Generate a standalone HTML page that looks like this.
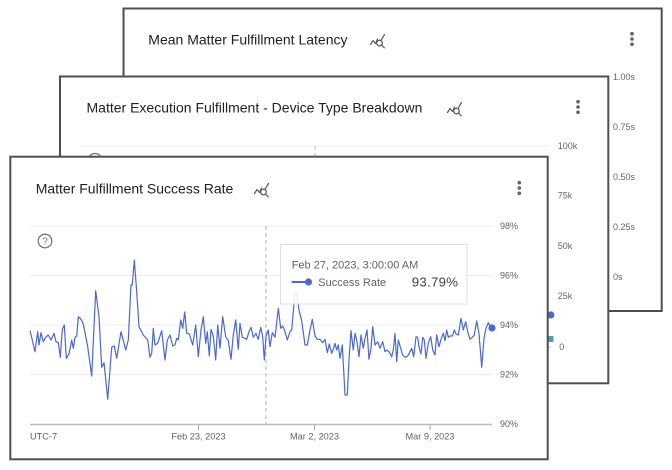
<!DOCTYPE html>
<html>
<head>
<meta charset="utf-8">
<style>
  html,body{margin:0;padding:0;background:#fff;}
  body{width:672px;height:470px;overflow:hidden;}
  svg{display:block;font-family:"Liberation Sans",Arial,sans-serif;}
</style>
</head>
<body>
<svg width="672" height="470" viewBox="0 0 672 470" xmlns="http://www.w3.org/2000/svg">
  <defs>
    <g id="qicon" fill="none" stroke="#5f6368" stroke-width="1.3" stroke-linecap="round" stroke-linejoin="round">
      <polyline points="254.5,193.5 257,189.5 259.5,192.5 261.5,188"/>
      <circle cx="263.5" cy="192" r="2.8"/>
      <line x1="265.6" y1="194.2" x2="268.3" y2="196.8"/>
      <line x1="265.2" y1="189.2" x2="268.5" y2="183.5"/>
    </g>
    <g id="kebab" fill="#5f6368">
      <circle cx="0" cy="-5.3" r="1.8"/>
      <circle cx="0" cy="0" r="1.8"/>
      <circle cx="0" cy="5.3" r="1.8"/>
    </g>
  </defs>

  <!-- ===== Card 1 ===== -->
  <rect x="123.5" y="8.5" width="538.2" height="302.5" fill="#fff" stroke="#4f4f4f" stroke-width="2"/>
  <text x="148.3" y="44.3" font-size="14" fill="#202124">Mean Matter Fulfillment Latency</text>
  <use href="#qicon" transform="translate(116,-149)"/>
  <use href="#kebab" transform="translate(632,39)"/>
  <g font-size="9" fill="#666">
    <text x="613" y="80.2">1.00s</text>
    <text x="613" y="130.2">0.75s</text>
    <text x="613" y="180.2">0.50s</text>
    <text x="613" y="230">0.25s</text>
    <text x="613" y="280">0s</text>
  </g>

  <!-- ===== Card 2 ===== -->
  <rect x="60" y="76.5" width="548.3" height="306.8" fill="#fff" stroke="#4f4f4f" stroke-width="2"/>
  <text x="86.5" y="112.3" font-size="14" fill="#202124">Matter Execution Fulfillment - Device Type Breakdown</text>
  <use href="#qicon" transform="translate(193,-81)"/>
  <use href="#kebab" transform="translate(578,107)"/>
  <line x1="80" y1="146" x2="550" y2="146" stroke="#ececec" stroke-width="1"/>
  <line x1="315" y1="146" x2="315" y2="160" stroke="#bbb" stroke-width="1" stroke-dasharray="4,3"/>
  <circle cx="95" cy="160.5" r="7" fill="none" stroke="#757575" stroke-width="1.3"/>
  <line x1="547" y1="347" x2="551" y2="347" stroke="#bbb" stroke-width="1"/>
  <g font-size="9" fill="#666">
    <text x="557.7" y="149">100k</text>
    <text x="557.7" y="198.5">75k</text>
    <text x="557.7" y="249">50k</text>
    <text x="557.7" y="299">25k</text>
    <text x="559.3" y="350">0</text>
  </g>
  <circle cx="550.8" cy="315" r="3.6" fill="#4c68d0"/>
  <rect x="548.5" y="336" width="5" height="6" fill="#5a9ea8"/>

  <!-- ===== Card 3 ===== -->
  <rect x="10.3" y="156.7" width="537.4" height="302.6" fill="#fff" stroke="#4f4f4f" stroke-width="2"/>
  <text x="35.7" y="193.3" font-size="14" fill="#202124">Matter Fulfillment Success Rate</text>
  <use href="#qicon"/>
  <use href="#kebab" transform="translate(519.3,188)"/>

  <!-- help icon -->
  <circle cx="45" cy="241" r="6.8" fill="none" stroke="#757575" stroke-width="1.3"/>
  <text x="45" y="244.6" font-size="10" fill="#757575" text-anchor="middle">?</text>

  <!-- gridlines -->
  <g stroke="#ececec" stroke-width="1">
    <line x1="30" y1="226" x2="492" y2="226"/>
    <line x1="30" y1="275.5" x2="492" y2="275.5"/>
    <line x1="30" y1="325" x2="492" y2="325"/>
    <line x1="30" y1="374.5" x2="492" y2="374.5"/>
  </g>
  <line x1="30" y1="424.5" x2="492" y2="424.5" stroke="#bdbdbd" stroke-width="1.4"/>
  <g stroke="#aaa" stroke-width="1">
    <line x1="198.5" y1="425" x2="198.5" y2="430"/>
    <line x1="314.5" y1="425" x2="314.5" y2="430"/>
    <line x1="430" y1="425" x2="430" y2="430"/>
  </g>

  <!-- y labels -->
  <g font-size="9" fill="#616161">
    <text x="500" y="229.2">98%</text>
    <text x="500" y="278.7">96%</text>
    <text x="500" y="328.2">94%</text>
    <text x="500" y="377.7">92%</text>
    <text x="500" y="427.2">90%</text>
  </g>
  <!-- x labels -->
  <g font-size="9.2" fill="#5f6368">
    <text x="30" y="439.5">UTC-7</text>
    <text x="198.5" y="439.5" text-anchor="middle">Feb 23, 2023</text>
    <text x="314.5" y="439.5" text-anchor="middle">Mar 2, 2023</text>
    <text x="430" y="439.5" text-anchor="middle">Mar 9, 2023</text>
  </g>

  <!-- crosshair -->
  <line x1="266" y1="226" x2="266" y2="424" stroke="#bdbdbd" stroke-width="1.2" stroke-dasharray="4,3"/>

  <!-- series -->
  <polyline fill="none" stroke="#4c68d0" stroke-width="1.2" stroke-linejoin="round" points="30,330.7 32.3,340 35,351.7 37.7,331.7 39,345 41,332.7 43.3,341.7 45.7,337.3 48.3,335 51,340 54,333.3 56,341.7 58.3,342.7 60.3,357.3 62.3,329.3 64.3,325 66.3,358.3 69,354 71.7,340 73.3,348.3 75,337.3 76.7,336 78.3,316.7 81,319.3 83.3,324 87.7,346.7 91.7,376 95.7,290.7 99,316.7 101.7,367.3 104,362.7 107.7,399.3 111.7,347.3 114.3,346 116.7,358.3 121,331.7 125.7,350 128.3,340 131,285 132.3,285 134.3,260 136.7,291.7 139,326.7 143.3,335 147.7,340 150,357.3 151.7,353.3 153.3,328.3 155,345 157.7,343.3 161.7,330.7 165,360 167.3,340 170,335 172.7,346 175,345 176.7,338.3 178.3,340 180.7,320 182.7,328.3 184.7,312 186.7,333.3 189.3,334 192.7,345 195.7,325 198.3,356.7 201,330 203.3,316.7 205.7,343.3 207.3,331.7 209.3,356 211,329.3 213.3,336 215.7,360 217.7,325 220,348.3 222.7,316.7 225.7,336.7 228.3,340.7 231,359.3 233.3,335 235.7,320 238.3,349.3 240,323.3 242.3,337.3 245,338.3 246.7,339.3 249,331.7 251,327.3 253.3,337.3 256,333.3 258.3,339.3 260.7,327.3 262.7,336.7 264.3,360 266,336 268.3,330 270,346.7 272.3,332.7 275,337.3 278.3,308.3 280.7,328.3 282.7,326 285,331.7 287.3,340 290,331.7 291.7,330 295,291.7 296.7,293.3 299.3,311.7 301.7,320.7 305,345 307.3,345 310,330 312.3,319.3 315,336 317.3,339.3 320,339.3 322.7,342.7 325,339.3 327.3,352.7 329.3,344 331.7,353.3 333.3,349.3 335,343.3 336.7,350 338.3,345 340,358.3 342.3,345 345,395 347.3,395 349,360 351,330.7 353.3,350 355,333.3 356.7,340 359,356.7 361,335 363.3,348.3 365,338.3 367,330 369,359.3 371,348.3 372.7,326.7 375,345 377.7,341.7 380,348.3 382.7,341.7 385,351.7 386.7,350 389,351.7 391.7,356.7 393.3,350 395,333.3 396.7,361.7 398.3,340 400.7,348.3 402.7,355 405,357.3 407.7,356 410,351.7 411.7,348.3 413.7,356.7 416,336.7 417.7,337.3 419,346.7 421,354 422.7,337.3 424.3,340 426,358.3 428.3,343.3 430.7,336.7 432.7,350 435,355 436.7,335 439,346.7 441,339.3 443.3,333.3 445,340.7 446.7,330 448.3,337.3 450,336 452.3,336 454.3,330 456,334 458.3,335 461,318.3 463.3,330 465.7,321.7 467.7,331.7 470,339.3 472.3,337.3 474.3,335 476.7,321 479,333.3 481.7,367.3 484,338.3 486,328.3 488.3,322.7 490,326 492,328"/>
  <circle cx="492" cy="328" r="3.6" fill="#4c68d0"/>

  <!-- tooltip -->
  <rect x="280.5" y="244.5" width="186.5" height="59.5" fill="#fff" fill-opacity="0.88" stroke="#e0e0e0" stroke-width="1"/>
  <text x="291.7" y="268.3" font-size="11" fill="#5f6368">Feb 27, 2023, 3:00:00 AM</text>
  <line x1="291.7" y1="282" x2="305.5" y2="282" stroke="#4c68d0" stroke-width="2"/>
  <circle cx="308.5" cy="282" r="3.6" fill="#4c68d0"/>
  <text x="318.3" y="285.8" font-size="11" fill="#5f6368">Success Rate</text>
  <text x="458.3" y="286.5" font-size="13.2" fill="#3c4043" text-anchor="end" letter-spacing="0.3">93.79%</text>
</svg>
</body>
</html>
